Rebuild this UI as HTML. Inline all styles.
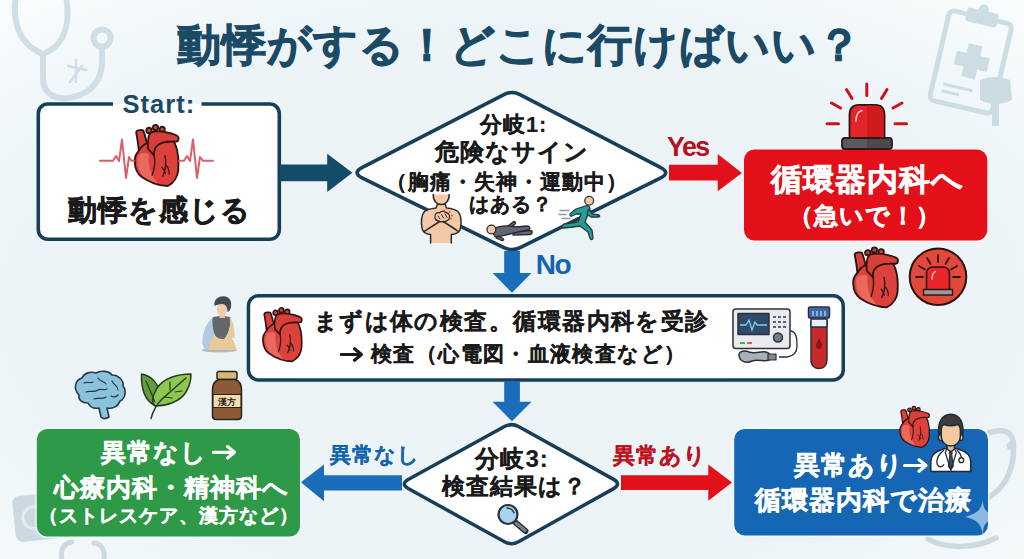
<!DOCTYPE html>
<html lang="ja">
<head>
<meta charset="utf-8">
<style>
html,body{margin:0;padding:0;}
body{width:1024px;height:559px;overflow:hidden;position:relative;font-family:"Liberation Sans",sans-serif;background:#ebf3f6;}
.t{position:absolute;white-space:nowrap;font-weight:bold;line-height:1;}
svg.L{position:absolute;left:0;top:0;}
.ar{font-size:1.25em;}
</style>
</head>

<body>
<svg class="L" width="1024" height="559" viewBox="0 0 1024 559">
 <defs>
  <radialGradient id="g1" cx="0.5" cy="0.55" r="0.8">
   <stop offset="0" stop-color="#ebf3f6"/>
   <stop offset="0.62" stop-color="#ecf4f7"/>
   <stop offset="0.95" stop-color="#fafdfe"/>
  </radialGradient>
 </defs>
 <rect width="1024" height="559" fill="url(#g1)"/>
 <!-- watermark: stethoscope top-left -->
 <g fill="none" stroke="#d0dfe6" stroke-width="6" stroke-linecap="round">
  <path d="M16 -4 C12 20 18 44 43 54 C68 44 70 20 66 -4"/>
  <path d="M43 54 V78 C43 96 58 101 74 97 C92 92 102 80 102 62 V47"/>
  <circle cx="102" cy="38" r="8.5"/>
 </g>
 <g stroke="#d0dfe6" stroke-width="2.5" stroke-linecap="round">
  <path d="M76 60 V82 M68 66 L86 70 M70 82 L82 66"/>
 </g>
 <!-- watermark: clipboard top-right -->
 <g transform="rotate(13 970 65)" fill="none" stroke="#cddde4" stroke-width="5" stroke-linejoin="round">
  <rect x="938" y="16" width="64" height="92" rx="5"/>
 </g>
 <g transform="rotate(13 970 65)" fill="#cddde4">
  <rect x="955" y="9" width="32" height="14" rx="3"/>
  <circle cx="971" cy="8" r="5"/>
  <rect x="964" y="44" width="14" height="34"/>
  <rect x="954" y="54" width="34" height="14"/>
  <rect x="948" y="88" width="30" height="3"/>
  <rect x="948" y="95" width="18" height="3"/>
 </g>
 <g fill="#cbdbe2">
  <path d="M980 80 Q995 74 1010 80 L1012 100 Q996 108 980 100 Z"/>
  <rect x="992" y="104" width="7" height="22"/>
 </g>
 <!-- watermark bottom-left -->
 <g transform="rotate(-6 40 518)">
  <rect x="14" y="494" width="56" height="46" rx="7" fill="#cbd9e0"/>
  <circle cx="34" cy="517" r="11" fill="none" stroke="#e3edf1" stroke-width="3"/>
 </g>
 <g fill="none" stroke="#cbd9e0" stroke-width="5" stroke-linecap="round">
  <path d="M62 559 C60 550 64 543 72 542 M104 559 C106 550 100 543 94 543"/>
 </g>
 <!-- watermark bottom-right stethoscope -->
 <g fill="none" stroke="#cdd9df" stroke-width="5.5" stroke-linecap="round">
  <path d="M980 436 C992 431 1004 428 1010 434 C1016 442 1014 462 1008 476 C1003 487 996 493 988 498"/>
  <path d="M928 539 C945 549 975 549 996 538"/>
 </g>
 <circle cx="1011" cy="446" r="4.5" fill="#cdd9df"/>
</svg>

<svg class="L" width="1024" height="559" viewBox="0 0 1024 559">
 <!-- Start box -->
 <rect x="38.3" y="104" width="241" height="135.2" rx="9.5" fill="#fff"/>
 <path d="M113 104 H47.8 A9.5 9.5 0 0 0 38.3 113.5 V229.7 A9.5 9.5 0 0 0 47.8 239.2 H269.8 A9.5 9.5 0 0 0 279.3 229.7 V113.5 A9.5 9.5 0 0 0 269.8 104 H201.5" fill="none" stroke="#173f57" stroke-width="3.6"/>
 <!-- arrow 1 -->
 <polygon points="280,164.4 327.2,164.4 327.2,153.7 352.4,172.8 327.2,192.1 327.2,181.2 280,181.2" fill="#134b69"/>
 <!-- diamond 1 -->
 <path d="M503.99 94.57 Q512.00 90.46 519.99 94.60 L660.39 167.28 Q671.05 172.80 660.30 178.13 L520.07 247.57 Q512.00 251.56 503.92 247.59 L362.52 178.09 Q351.75 172.80 362.42 167.32 Z" fill="#fff" stroke="#173f57" stroke-width="3.6"/>
 <!-- Yes arrow -->
 <polygon points="669,164.7 717.7,164.7 717.7,153.9 741.9,173 717.7,191.3 717.7,180.4 669,180.4" fill="#e1101a"/>
 <!-- red box -->
 <rect x="742.4" y="147.9" width="246.5" height="94.2" rx="12" fill="#fbf3f3" opacity="0.7"/>
 <rect x="744" y="149.5" width="243.3" height="91" rx="10.5" fill="#e3101a"/>
 <!-- No arrow -->
 <polygon points="504.2,251 519.9,251 519.9,273 531.5,273 512,292.8 492.6,273 504.2,273" fill="#1a6db8"/>
 <!-- box 2 -->
 <rect x="248.45" y="295.75" width="594.80" height="84.20" rx="10" fill="#fff" stroke="#173f57" stroke-width="3.5"/>
 <!-- arrow 2 -->
 <polygon points="504.2,381 519.9,381 519.9,401.8 531.5,401.8 512,421.3 492.6,401.8 504.2,401.8" fill="#1a6db8"/>
 <!-- diamond 3 -->
 <path d="M504.49 426.55 Q511.50 422.70 518.49 426.58 L613.16 479.15 Q621.90 484.00 613.17 488.87 L518.49 541.70 Q511.50 545.60 504.50 541.73 L408.65 488.83 Q399.90 484.00 408.66 479.19 Z" fill="#fff" stroke="#173f57" stroke-width="3.5"/>
 <!-- left blue arrow -->
 <polygon points="402,475.2 324,475.2 324,464.4 300.9,482.3 324,501.2 324,490.4 402,490.4" fill="#1a6db8"/>
 <!-- right red arrow -->
 <polygon points="621,475.2 708.3,475.2 708.3,464.4 732,482.6 708.3,500.8 708.3,490 621,490" fill="#e1101a"/>
 <!-- green box -->
 <rect x="35.2" y="427.3" width="266.3" height="110.9" rx="12" fill="#f6fcfd" opacity="0.8"/>
 <rect x="36.8" y="429" width="263.2" height="107.6" rx="10.5" fill="#2e9a47"/>
 <!-- blue box -->
 <rect x="732.6" y="427.3" width="257" height="109.7" rx="12" fill="#f2fafd" opacity="0.8"/>
 <rect x="734.2" y="429" width="253.8" height="106.4" rx="10.5" fill="#1567b5"/>
 <!-- text arrows -->
 <g fill="none" stroke-linecap="round" stroke-linejoin="round" stroke-width="3.2">
  <path d="M341.2 354.5H361.5M354.5 348.8L361.5 354.5L354.5 360.2" stroke="#1a1a1a"/>
  <path d="M213.5 452.3H234.5M227.5 446.6L234.5 452.3L227.5 458" stroke="#ffffff"/>
  <path d="M904.5 465.5H926M919 459.8L926 465.5L919 471.2" stroke="#ffffff"/>
 </g>
</svg>

<svg class="L" width="1024" height="559" viewBox="0 0 1024 559">
 <defs>
  <!-- heart in 40x56 box -->
  <g id="heart" stroke="#2e1313" stroke-width="1.7" stroke-linejoin="round" stroke-linecap="round">
   <path d="M0.6 6.4 C1.2 4.6 6 4.2 7.3 5.1 C9.2 10 10.6 16 11.8 21.7 L3.2 24 C2.5 17 1.5 11 0.6 6.4 Z" fill="#d9403a"/>
   <path d="M3.2 23.6 C0 27 -1 31 -0.7 34 C-0.5 40 2 45 5.8 47.8 C12 52 22 56 30.3 56 C36 53 39.5 47 40 41.4 C40.5 33 40 26 38 20 L36 15 L14 15 C9 17 5 20 3.2 23.6 Z" fill="#dc423b"/>
   <path d="M2.5 28 C1 35 2.5 43 7.5 47 C11.5 50.5 16.5 52.5 21 53.5 C14 46 11.5 37 12.5 27 C10 25 5 25 2.5 28 Z" fill="#e9695d" stroke="none"/>
   <circle cx="12.6" cy="5" r="2.5" fill="#d9403a"/>
   <circle cx="18.7" cy="2.4" r="2.5" fill="#d9403a"/>
   <circle cx="24.9" cy="4.1" r="2.5" fill="#d9403a"/>
   <path d="M11.8 22 C11 14 12 8.5 15 6.5 C20 5.2 26 6 30.3 7 C34 7.8 37 8.5 39.3 10.2 C41 11.6 40.6 15 38 15.3 C34 15 30 15 26.4 15.9 C22 17 19.5 19 18 22 C17.3 24 17.2 26 17.5 28 Z" fill="#d83f39"/>
   <path d="M17.5 28 C18.5 34 18 40 15.5 46" fill="none" stroke-width="1.3"/>
   <path d="M27.5 28 C29 34 28.5 40 25.5 47 M27.8 36.5 C30.5 38.5 31.5 41.5 31.5 45 M24.8 39 C26.3 40.5 27.3 42.5 27.8 44.5" fill="none" stroke-width="1.2"/>
  </g>
 </defs>
 <!-- hearts -->
 <use href="#heart" transform="translate(135.5 125) scale(1.07 1.09)"/>
 <use href="#heart" transform="translate(263.6 307.9) scale(0.95 0.955)"/>
 <use href="#heart" transform="translate(854 247.4) scale(1.09 1.07)"/>
 <use href="#heart" transform="translate(900.4 406.4) scale(0.72 0.73)"/>
 <!-- ECG lines around start heart -->
 <g fill="none" stroke="#d9606a" stroke-width="2" stroke-linejoin="round" stroke-linecap="round">
  <path d="M100 160.8 H113 L116 156 L119 161 L122 139.5 L126 178 L129 157 L131.5 160.8 H134"/>
  <path d="M179 160.8 H184 L187 156 L190 161 L193 139.5 L197 178 L200 157 L203 160.8 H213"/>
 </g>

 <!-- siren above red box -->
 <g stroke-linecap="round">
  <g stroke="#c8141f" stroke-width="3">
   <path d="M866.8 84 V95.5"/>
   <path d="M846.5 89.5 L852 98.5"/>
   <path d="M887 89.5 L881.5 98.5"/>
   <path d="M831.5 103 L840.5 108"/>
   <path d="M902 103 L893 108"/>
   <path d="M827 123.7 H838.5"/>
   <path d="M895 123.7 H906.5"/>
  </g>
 </g>
 <path d="M849.5 139 V115 C849.5 108 853 104.8 859 104.8 H875 C881 104.8 884.5 108 884.5 115 V139 Z" fill="#e3242a" stroke="#2a1212" stroke-width="1.8"/>
 <path d="M867 105.5 H875 C880.5 105.5 883.6 108.5 883.6 115 V138.5 H867 Z" fill="#d01a20"/>
 <path d="M856 121 C856 115 858 111.5 862 110.5" fill="none" stroke="#ffd2d2" stroke-width="1.6" stroke-linecap="round"/>
 <rect x="842" y="138" width="50" height="11" rx="3" fill="#5a5a5a" stroke="#2a1a1a" stroke-width="1.8"/>
 <rect x="867" y="139" width="24" height="9" fill="#4a4a4a"/>
 <!-- siren circle icon -->
 <circle cx="938" cy="276.8" r="28.3" fill="#e2493b" stroke="#2a1212" stroke-width="2"/>
 <g stroke="#2a1212" stroke-width="1.8" stroke-linecap="round">
  <path d="M938 255 V262"/>
  <path d="M927 258 L930.5 264"/>
  <path d="M949 258 L945.5 264"/>
  <path d="M919 266 L925 269.5"/>
  <path d="M957 266 L951 269.5"/>
  <path d="M916 277 H923"/>
  <path d="M953 277 H960"/>
 </g>
 <path d="M926.5 290 V274 C926.5 269 929 267 933 267 H943 C947 267 949.5 269 949.5 274 V290 Z" fill="#e8262c" stroke="#2a1212" stroke-width="1.6"/>
 <path d="M932 279 C932 275 933 272.5 935.5 271.5" fill="none" stroke="#ffd2d2" stroke-width="1.3" stroke-linecap="round"/>
 <rect x="923.5" y="289.5" width="29" height="5.5" fill="#9a9a9a" stroke="#2a1212" stroke-width="1.4"/>

 <!-- person holding chest -->
 <path d="M430.6 243 V234.6 C426 234 422.5 232 422 228 C421 222 421.5 215 424.5 211.5 C427 209.5 432 208.5 436 208 L437.5 204 H445 L446.5 208 C451 208.5 455.5 209.5 458 211.5 C461 215 461.5 222 460.5 228 C460 232 456.5 234 451.3 234.6 V243 Z" fill="#f6c9a6"/>
 <path d="M433.2 194.5 C433 201 437 204.5 441.2 204.5 C445.4 204.5 449.4 201 449.2 194.5 Z" fill="#f6c9a6"/>
 <g fill="none" stroke="#2b2b2b" stroke-width="1.5" stroke-linejoin="round" stroke-linecap="round">
  <path d="M430.6 243 V234.6 C426 234 422.5 232 422 228 C421 222 421.5 215 424.5 211.5 C427 209.5 432 208.5 436 208 L437.5 204 M445 204 L446.5 208 C451 208.5 455.5 209.5 458 211.5 C461 215 461.5 222 460.5 228 C460 232 456.5 234 451.3 234.6 V243"/>
  <path d="M433.2 194.5 C433 201 437 204.5 441.2 204.5 C445.4 204.5 449.4 201 449.2 194.5"/>
  <path d="M424 231.5 C431 227 440 221 449 216 M458.5 231.5 C452 227 444 222 436 217"/>
 </g>
 <path d="M435 218 C434 214 437 212 439.5 213 C441 211 444 211 446 212.5 C449 213 450.5 216 449 219 C447.5 221.5 443 222 440 221.5 C437.5 221 435.5 220 435 218 Z" fill="#f6c9a6" stroke="#2b2b2b" stroke-width="1.3" stroke-linejoin="round"/>
 <path d="M438 216 L440 219 M441.5 214.5 L443.5 218 M445 214 L447 217.5" stroke="#2b2b2b" stroke-width="1" stroke-linecap="round"/>
 <g fill="#e0584a">
  <circle cx="444" cy="210.5" r="1.1"/><circle cx="449.5" cy="212" r="1"/><circle cx="452" cy="215.5" r="1.1"/><circle cx="447" cy="209" r="0.8"/><circle cx="451" cy="219" r="0.9"/>
 </g>
 <!-- lying person -->
 <g stroke="#2b2b2b" stroke-width="1.3" stroke-linejoin="round" stroke-linecap="round" fill="#5f6878">
  <path d="M505 228.5 L513 222 C514.5 220.8 516.5 222.5 515 224 L509 230 Z"/>
  <path d="M513 231 L530 230.5 C533 230.5 533 234 530 234.5 L513 235 Z"/>
  <path d="M496 227.5 C501 225.5 509 225.5 516 227 L527 226 C530 226 531 229 528 230 L516 232.5 C510 234 502 236 497 237 C494 237.5 493 234 494 231 Z"/>
  <path d="M498 236 L503 238.5 C504.5 239.5 503 241 501.5 240.5 L496 238 Z"/>
  <circle cx="491.4" cy="229.5" r="4.4" fill="#f5c7a4"/>
 </g>
 <!-- runner -->
 <g stroke="#1f3d3d" stroke-width="1.3" stroke-linejoin="round" stroke-linecap="round">
  <path d="M585 206 C588 205 590 206 590 209 L585 222 L592 230 L593 238 C593 240 590 240 590 238 L588 232 L580 226 L573 227 L564 228 C562 228 562 225 564 224 L578 222 L581 214 L576 214 L572 216 C570 217 569 214 571 213 L576 209 Z" fill="#2a9a96"/>
  <path d="M589 209 L592 214 L599 215 C600 215.5 600 217 598.5 217 L591 217 L587 214 Z" fill="#2a9a96"/>
  <circle cx="589.2" cy="200.8" r="4.4" fill="#f5c7a4"/>
 </g>
 <g stroke="#8a9aa0" stroke-width="1.4" stroke-linecap="round">
  <path d="M560 210.5 H569 M559 214.5 H566 M562 218.5 H570"/>
 </g>
 <!-- ECG machine -->
 <g stroke="#2b3038" stroke-width="1.5" stroke-linejoin="round">
  <rect x="733" y="309" width="57" height="39.5" rx="3" fill="#e9ebee"/>
  <rect x="738" y="313.5" width="31" height="21" fill="#2f4a6a"/>
  <circle cx="778" cy="337.5" r="4.5" fill="#6f7f8f"/>
  <path d="M790 331 C797 331 797 340 797 346 C797 352 794 356 787 357 H779" fill="none" stroke-width="1.3"/>
  <path d="M739 355 C739 351 745 350 749 352 C756 354 760 351 766 352 C770 353 772 357 769 360 C765 362 758 359 752 361 C746 364 739 361 739 355 Z" fill="#a9b1b8"/>
  <rect x="768" y="354" width="8" height="6" fill="#7f8890" stroke-width="1.2"/>
 </g>
 <path d="M740 325 H746 L749 320 L752 330 L755 322 L757 325 H767" fill="none" stroke="#7fd0e6" stroke-width="1.3"/>
 <g fill="#5b6570">
  <rect x="773" y="316" width="3" height="2"/><rect x="778" y="316" width="3" height="2"/><rect x="783" y="316" width="3" height="2"/>
  <rect x="773" y="321" width="3" height="2"/><rect x="778" y="321" width="3" height="2"/><rect x="783" y="321" width="3" height="2"/>
  <rect x="773" y="326" width="3" height="2"/><rect x="778" y="326" width="3" height="2"/><rect x="783" y="326" width="3" height="2"/>
 </g>
 <rect x="740" y="342" width="5" height="2" fill="#4caf50"/><rect x="747" y="342" width="5" height="2" fill="#e05a5a"/>
 <!-- test tube -->
 <g stroke="#2b3038" stroke-width="1.5" stroke-linejoin="round">
  <path d="M811 321 V360 C811 366 815 368.5 819 368.5 C823 368.5 827 366 827 360 V321 Z" fill="#c62a2a"/>
  <rect x="811" y="319" width="16" height="8" fill="#e8f2f8"/>
  <rect x="808.5" y="307" width="21" height="11" rx="1.5" fill="#3a6aa8"/>
 </g>
 <path d="M813 311 V316 M817 311 V316 M821 311 V316 M825 311 V316" stroke="#c8dcef" stroke-width="1.2"/>
 <path d="M819 338 C817 342 816 344 816 345.5 C816 347.5 817.5 349 819 349 C820.5 349 822 347.5 822 345.5 C822 344 821 342 819 338 Z" fill="#8a1414"/>
 <!-- sitting person -->
 <g opacity="0.88">
 <ellipse cx="219.5" cy="350" rx="17.5" ry="2.6" fill="#a9b3b9"/>
 <path d="M214 317 C207 321 203 331 202.5 340 C202 345 203.5 349 207 350 L216 348 C214 340 213 329 215 320 Z" fill="#a9c6df"/>
 <path d="M212.5 317.5 C217 315.5 227 315.5 230.5 317.5 C231 326 228.5 335 222 342 C220 342.5 218.5 342 217.5 341 C213.5 334 212 326 212.5 317.5 Z" fill="#505459"/>
 <path d="M208.5 350 C209 343 211.5 338 215.5 336 C219 340 225 340 229.5 336.5 C233 339 235.5 344 236.5 350 Z" fill="#e9c48c"/>
 <path d="M226 338 C230 331 231 324 229.5 317 C233.5 321 235 330 234.5 338 Z" fill="#e9c48c"/>
 <path d="M219.5 313 H225 V318 H219.5 Z" fill="#e8bd9c"/>
 <ellipse cx="222" cy="309.5" rx="5.3" ry="6" fill="#f1c6a4"/>
 <path d="M214.5 306 C213.5 299.5 218.5 296.2 223.5 296.3 C229.5 296.5 232 301 231 307 C230.5 310 229 311.5 227.5 312 C227.5 307 226 304.5 222 304 C219 304 216.5 305 214.5 306 Z" fill="#2f3440"/>
 </g>
 <!-- brain -->
 <g stroke="#26384a" stroke-width="1.6" stroke-linejoin="round" stroke-linecap="round">
  <path d="M79 395 C73 389 75 380 82 378 C84 373 91 371 96 373 C101 370 109 371 112 375 C118 375 124 380 123 386 C127 391 125 399 120 401 C118 407 112 409 107 408 L109 417 C106 419 103 419 101 417 L99 408 C94 409 90 407 88 403 C82 403 78 400 79 395 Z" fill="#8cc3dc"/>
 </g>
 <g fill="none" stroke="#26384a" stroke-width="1.2" stroke-linecap="round">
  <path d="M84 383 C88 381 90 384 93 382 M98 378 C100 382 104 381 106 384 M112 381 C114 385 118 386 118 390 M86 392 C90 390 94 393 98 390 C101 388 104 391 107 389 M94 399 C98 397 102 400 106 397 M111 396 C114 398 116 397 118 395"/>
 </g>
 <!-- leaves -->
 <g stroke="#2a3a22" stroke-width="1.5" stroke-linejoin="round" stroke-linecap="round">
  <path d="M141.5 374 C152 376 159 384 160 395 C159 400 156 403 154 405 C145 400 141 391 141.5 374 Z" fill="#5f9e3c"/>
  <path d="M191 374 C178 374 162 378 156 390 C152 397 152 403 155 406 C166 406 180 402 186 392 C189 387 191 380 191 374 Z" fill="#8fc64f"/>
  <path d="M151 418.5 C153 411 156 405 162 399 C170 392 178 385 186 378" fill="none"/>
  <path d="M146 381 C149 388 152 395 155 402 M170 390 V382 M175 392 L182 391 M164 397 L172 398" fill="none" stroke-width="1.2"/>
 </g>
 <!-- bottle -->
 <g stroke="#2b241e" stroke-width="1.5" stroke-linejoin="round">
  <rect x="217" y="371.5" width="20" height="8" rx="2" fill="#d8b776"/>
  <path d="M219 379.5 H235 C239 381 241.5 384 241.5 389 V416 C241.5 418.5 240 419.5 237.5 419.5 H216.5 C214 419.5 212.5 418.5 212.5 416 V389 C212.5 384 215 381 219 379.5 Z" fill="#8b5a36"/>
  <rect x="213" y="394.5" width="28" height="13" fill="#f0ddb2" stroke-width="1.2"/>
 </g>
 <text x="227" y="405" font-size="9" font-weight="bold" text-anchor="middle" fill="#2b241e" font-family="Liberation Sans">漢方</text>
 <!-- magnifier -->
 <g stroke="#26323c" stroke-linecap="round">
  <path d="M515.5 522.5 L525.5 531" stroke-width="6"/>
  <path d="M516 523 L525 530.5" stroke="#7b7f84" stroke-width="3"/>
  <circle cx="508" cy="514.5" r="9.5" fill="#a9d3ef" stroke-width="2.2"/>
 </g>
 <path d="M507 508 C510 508 513 510 514 513" fill="none" stroke="#26323c" stroke-width="1.3" stroke-linecap="round"/>
 <!-- doctor -->
 <g stroke="#1e2a36" stroke-width="1.5" stroke-linejoin="round" stroke-linecap="round">
  <path d="M930.8 471.5 V462 C930.8 455 935 451.5 942 449.5 L947 448 L950.8 452 L954.5 448 L959.5 449.5 C966.5 451.5 970.8 455 970.8 462 V471.5 Z" fill="#ffffff"/>
  <path d="M947 443 V449 L950.8 452 L954.5 449 V443 Z" fill="#eab48c"/>
  <path d="M939 436 C937 423 941.5 414.5 950.8 414.3 C960 414.5 964.5 423 962.5 436 Z" fill="#3d3d3d"/>
  <ellipse cx="940.6" cy="437.5" rx="2.2" ry="3" fill="#f5c9a0"/>
  <ellipse cx="961" cy="437.5" rx="2.2" ry="3" fill="#f5c9a0"/>
  <path d="M941.2 430 C941.5 426.5 942.5 425 944 424.5 C948 426 953.5 426 957.6 424.5 C959 425 960.2 426.5 960.4 430 V436 C960.4 442 956 446 950.8 446 C945.6 446 941.2 442 941.2 436 Z" fill="#f5c9a0"/>
  <path d="M949.3 452.6 L950.8 451.2 L952.3 452.6 L951.8 455 L953.3 466.5 L950.8 469.8 L948.3 466.5 L949.8 455 Z" fill="#3d4a5c" stroke-width="1"/>
  <path d="M947 448 L945.3 452.5 L950.8 470.5 M954.5 448 L956.3 452.5 L950.8 470.5" fill="none" stroke-width="1.2"/>
 </g>
 <g fill="none" stroke="#2a323c" stroke-width="1.4" stroke-linecap="round">
  <path d="M943.5 450.5 C938.5 454.5 936 460 937.3 464.5 C938.5 467.5 942.5 467.5 943.8 464.8"/>
  <path d="M957.5 450.5 C960 453 961.3 456 961.3 458"/>
 </g>
 <circle cx="961.3" cy="460.2" r="2.4" fill="#ffffff" stroke="#2a323c" stroke-width="1.4"/>
 <!-- sparkle on blue box -->
 <clipPath id="bbx"><rect x="734.2" y="429" width="253.8" height="106.4" rx="10.5"/></clipPath>
 <path clip-path="url(#bbx)" d="M983 500 C983 510 986 513 999 517 C986 520 983 524 983 535 C981 524 978 520 965 517 C978 513 981 510 983 500 Z" fill="#8db7df"/>
</svg>

<div class="t" style="left:177.40px;top:23.20px;font-size:44.35px;letter-spacing:1.00px;color:#1b4a66;-webkit-text-stroke:0.9px #1b4a66;">動悸がする！どこに行けばいい？</div>
<div class="t" style="left:122.60px;top:91.80px;font-size:25.49px;letter-spacing:1.00px;color:#1b4a66;">Start:</div>
<div class="t" style="left:68.40px;top:195.90px;font-size:29.19px;letter-spacing:1.00px;color:#1a1a1a;-webkit-text-stroke:0.6px #1a1a1a;">動悸を感じる</div>
<div class="t" style="left:479.90px;top:113.50px;font-size:21.74px;letter-spacing:1.00px;color:#1a1a1a;-webkit-text-stroke:0.2px #1a1a1a;">分岐1:</div>
<div class="t" style="left:435.20px;top:139.70px;font-size:24.39px;letter-spacing:1.00px;color:#1a1a1a;-webkit-text-stroke:0.2px #1a1a1a;">危険なサイン</div>
<div class="t" style="left:385.50px;top:170.55px;font-size:21.09px;letter-spacing:1.00px;color:#1a1a1a;-webkit-text-stroke:0.2px #1a1a1a;">（胸痛・失神・運動中）</div>
<div class="t" style="left:469.20px;top:194.05px;font-size:20.43px;letter-spacing:1.00px;color:#1a1a1a;-webkit-text-stroke:0.2px #1a1a1a;">はある？</div>
<div class="t" style="left:667.00px;top:134.15px;font-size:26.85px;letter-spacing:-1.50px;color:#b8111e;">Yes</div>
<div class="t" style="left:535.80px;top:250.90px;font-size:28.05px;letter-spacing:-1.50px;color:#1565ae;">No</div>
<div class="t" style="left:770.60px;top:163.80px;font-size:30.66px;letter-spacing:1.00px;color:#ffffff;-webkit-text-stroke:0.6px #ffffff;">循環器内科へ</div>
<div class="t" style="left:789.00px;top:203.65px;font-size:24.03px;letter-spacing:1.00px;color:#ffffff;-webkit-text-stroke:0.5px #ffffff;">（急いで！）</div>
<div class="t" style="left:313.70px;top:310.45px;font-size:23.34px;letter-spacing:1.44px;color:#1a1a1a;-webkit-text-stroke:0.2px #1a1a1a;">まずは体の検査。循環器内科を受診</div>
<div class="t" style="left:371.00px;top:343.90px;font-size:21.31px;letter-spacing:1.38px;color:#1a1a1a;-webkit-text-stroke:0.2px #1a1a1a;">検査（心電図・血液検査など）</div>
<div class="t" style="left:475.40px;top:447.00px;font-size:24.04px;letter-spacing:1.00px;color:#1a1a1a;-webkit-text-stroke:0.2px #1a1a1a;">分岐3:</div>
<div class="t" style="left:441.60px;top:474.50px;font-size:22.68px;letter-spacing:1.00px;color:#1a1a1a;-webkit-text-stroke:0.2px #1a1a1a;">検査結果は？</div>
<div class="t" style="left:329.60px;top:445.10px;font-size:21.39px;letter-spacing:1.00px;color:#1565ad;-webkit-text-stroke:0.2px #1565ad;">異常なし</div>
<div class="t" style="left:613.00px;top:444.60px;font-size:22.18px;letter-spacing:1.00px;color:#c0111d;-webkit-text-stroke:0.2px #c0111d;">異常あり</div>
<div class="t" style="left:101.00px;top:439.60px;font-size:25.34px;letter-spacing:1.00px;color:#ffffff;-webkit-text-stroke:0.5px #ffffff;">異常なし</div>
<div class="t" style="left:53.60px;top:475.90px;font-size:24.80px;letter-spacing:1.00px;color:#ffffff;-webkit-text-stroke:0.5px #ffffff;">心療内科・精神科へ</div>
<div class="t" style="left:38.60px;top:506.40px;font-size:19.31px;letter-spacing:1.00px;color:#ffffff;-webkit-text-stroke:0.35px #ffffff;">（ストレスケア、漢方など）</div>
<div class="t" style="left:794.20px;top:451.90px;font-size:26.13px;letter-spacing:1.00px;color:#ffffff;-webkit-text-stroke:0.5px #ffffff;">異常あり</div>
<div class="t" style="left:754.80px;top:488.20px;font-size:25.61px;letter-spacing:1.00px;color:#ffffff;-webkit-text-stroke:0.6px #ffffff;">循環器内科で治療</div>
</body></html>
